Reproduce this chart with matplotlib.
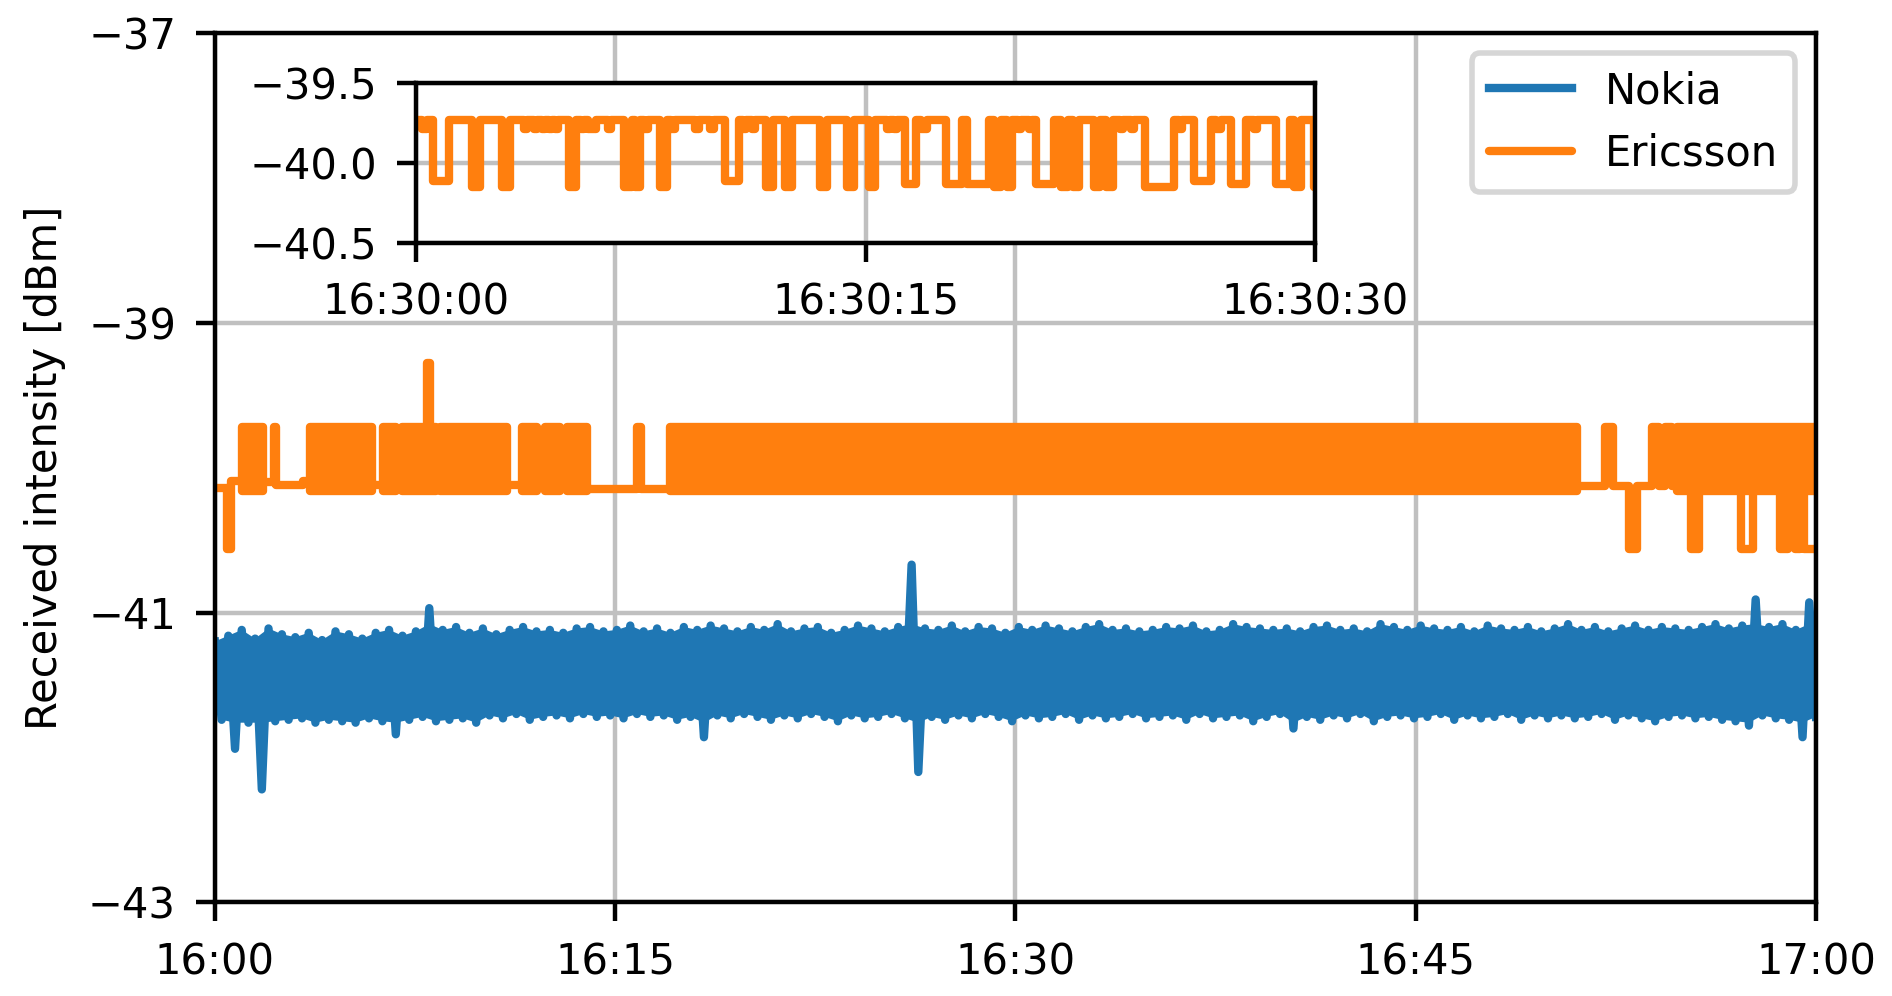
import matplotlib
matplotlib.use("Agg")
import matplotlib.pyplot as plt
import matplotlib.dates as mdates
import numpy as np

plt.rcParams['font.size'] = 7.5

# Nokia: upper / lower envelope of the received intensity per 30 s window [dBm]
nokia_top = [
    -41.20, -41.16, -41.12, -41.18, -41.11, -41.15, -41.17, -41.14, -41.19, -41.13,
    -41.15, -41.18, -41.14, -41.12, -41.16, -41.13, -40.97, -41.12, -41.10, -41.14,
    -41.11, -41.15, -41.12, -41.10, -41.13, -41.12, -41.14, -41.11, -41.10, -41.13,
    -41.12, -41.09, -41.13, -41.11, -41.14, -41.10, -41.12, -41.09, -41.11, -41.13,
    -41.10, -41.12, -41.08, -41.13, -41.11, -41.10, -41.14, -41.12, -41.09, -41.11,
    -41.13, -41.10, -40.67, -41.11, -41.12, -41.09, -41.13, -41.10, -41.11, -41.14,
    -41.10, -41.12, -41.09, -41.11, -41.13, -41.10, -41.08, -41.12, -41.11, -41.13,
    -41.12, -41.10, -41.11, -41.09, -41.13, -41.12, -41.08, -41.10, -41.11, -41.12,
    -41.11, -41.13, -41.10, -41.09, -41.12, -41.11, -41.13, -41.08, -41.10, -41.12,
    -41.09, -41.11, -41.12, -41.10, -41.13, -41.09, -41.11, -41.12, -41.10, -41.13,
    -41.11, -41.08, -41.12, -41.10, -41.13, -41.11, -41.09, -41.12, -41.10, -41.11,
    -41.12, -41.10, -41.08, -41.11, -41.09, -40.91, -41.10, -41.08, -41.12, -40.93,
]
nokia_bottom = [
    -41.74, -41.94, -41.76, -42.22, -41.75, -41.74, -41.73, -41.76, -41.74, -41.75,
    -41.76, -41.73, -41.75, -41.84, -41.74, -41.72, -41.75, -41.74, -41.73, -41.76,
    -41.71, -41.73, -41.70, -41.74, -41.72, -41.71, -41.73, -41.70, -41.72, -41.71,
    -41.73, -41.70, -41.72, -41.71, -41.74, -41.72, -41.86, -41.71, -41.73, -41.70,
    -41.72, -41.74, -41.71, -41.73, -41.70, -41.72, -41.75, -41.71, -41.73, -41.72,
    -41.70, -41.73, -42.10, -41.72, -41.74, -41.71, -41.73, -41.70, -41.72, -41.75,
    -41.71, -41.73, -41.72, -41.70, -41.74, -41.71, -41.73, -41.72, -41.70, -41.73,
    -41.72, -41.71, -41.74, -41.70, -41.73, -41.72, -41.71, -41.75, -41.72, -41.70,
    -41.80, -41.72, -41.74, -41.71, -41.73, -41.70, -41.75, -41.72, -41.71, -41.73,
    -41.72, -41.70, -41.74, -41.71, -41.73, -41.72, -41.70, -41.74, -41.71, -41.73,
    -41.71, -41.73, -41.72, -41.70, -41.74, -41.71, -41.73, -41.75, -41.72, -41.71,
    -41.73, -41.72, -41.74, -41.75, -41.78, -41.71, -41.73, -41.74, -41.86, -41.72,
]
# typical band limits, used only to fill the inside of the noisy trace
nokia_core = (-41.76, -41.08)

# Ericsson: level changes (minutes after 16:00) and new level [dBm]
eric_min = [0.0, 0.45, 0.6, 1.82, 2.20, 2.28, 3.30, 5.88, 7.95, 8.05, 8.30,
            10.94, 12.07, 12.94, 13.94, 15.80, 15.95, 51.05, 52.10, 52.40,
            53.00, 53.30, 53.86, 54.10, 54.35, 54.60, 55.30, 55.60, 57.20,
            57.65, 58.67, 58.97, 59.20, 59.40, 59.55, 59.90, 60.0]
eric_val = [-40.14, -40.56, -40.09, -40.10, -39.72, -40.12, -40.09, -40.12,
            -39.28, -40.12, -40.12, -40.12, -40.12, -40.12, -40.15, -39.72,
            -40.15, -40.13, -39.72, -40.13, -40.56, -40.13, -39.72, -40.13,
            -39.72, -40.13, -40.56, -40.13, -40.56, -40.13, -40.56, -40.13,
            -40.56, -40.13, -40.56, -40.56, -40.56]
# spans (minutes) where Ericsson flips between the two levels faster than the plot resolves
eric_busy = [(1.0, 1.82), (3.57, 5.88), (6.3, 6.8), (7.0, 8.3), (8.44, 10.94),
             (11.5, 12.07), (12.38, 12.94), (13.19, 13.94), (17.06, 51.05),
             (54.8, 60.0)]
eric_low, eric_high = -40.16, -39.72

# Inset: Ericsson between 16:30:00 and 16:30:30, seconds and level [dBm]
inset_sec = [0.0, 0.19, 0.36, 0.55, 1.1, 1.88, 2.12, 2.88, 3.12, 3.6, 3.7, 3.95,
             4.05, 4.2, 4.3, 4.45, 4.55, 4.65, 4.75, 5.1, 5.35, 5.5, 5.6, 5.75,
             6.0, 6.4, 6.5, 6.95, 7.22, 7.3, 7.47, 7.6, 7.75, 8.14, 8.36, 8.5,
             8.65, 9.3, 9.45, 9.8, 9.95, 10.3, 10.76, 10.9, 11.0, 11.2, 11.3,
             11.68, 11.92, 12.3, 12.53, 13.48, 13.72, 14.37, 14.6, 15.12, 15.32,
             15.7, 15.8, 15.95, 16.05, 16.3, 16.68, 16.85, 17.05, 17.68, 18.23,
             18.4, 19.12, 19.3, 19.52, 19.71, 19.9, 20.1, 20.2, 20.45, 20.55,
             20.68, 21.28, 21.52, 21.75, 21.93, 22.13, 22.63, 22.82, 23.02, 23.27,
             23.5, 23.6, 23.85, 23.95, 24.33, 25.3, 25.45, 25.55, 25.95, 26.52,
             26.7, 26.85, 27.18, 27.7, 27.95, 28.05, 28.7, 29.15, 29.28, 29.52,
             29.95, 30.0]
inset_val = [-39.73, -39.79, -39.73, -40.11, -39.73, -40.15, -39.73, -40.15,
             -39.73, -39.79, -39.73, -39.79, -39.73, -39.79, -39.73, -39.79,
             -39.73, -39.79, -39.73, -40.15, -39.73, -39.79, -39.73, -39.79,
             -39.73, -39.79, -39.73, -40.15, -39.73, -40.15, -39.73, -39.79,
             -39.73, -40.15, -39.73, -39.79, -39.73, -39.79, -39.73, -39.79,
             -39.73, -40.11, -39.73, -39.79, -39.73, -39.79, -39.73, -40.15,
             -39.73, -40.15, -39.73, -40.15, -39.73, -40.15, -39.73, -40.15,
             -39.73, -39.79, -39.73, -39.79, -39.73, -40.13, -39.73, -39.79,
             -39.73, -40.13, -39.73, -40.13, -39.73, -40.15, -39.73, -40.15,
             -39.73, -39.79, -39.73, -39.79, -39.73, -40.13, -39.73, -40.15,
             -39.73, -40.15, -39.73, -40.15, -39.73, -40.15, -39.73, -39.79,
             -39.73, -39.79, -39.73, -40.15, -39.73, -39.79, -39.73, -40.11,
             -39.73, -39.79, -39.73, -40.13, -39.73, -39.79, -39.73, -40.13,
             -39.73, -40.15, -39.73, -40.15, -40.15]

NOKIA_COLOR = '#1f77b4'
ERIC_COLOR = '#ff7f0e'
GRID_COLOR = '#c0c0c0'

start = np.datetime64('2021-01-01T16:00:00')
inset_start = np.datetime64('2021-01-01T16:30:00')


def to_time(base, values, unit_ms):
    """Offsets (minutes or seconds) to datetime64 from a base time."""
    offsets = np.round(np.asarray(values, dtype=float) * unit_ms).astype('timedelta64[ms]')
    return base + offsets


fig = plt.figure(figsize=(1892 / 400, 996 / 400), dpi=400)
ax = fig.add_axes([0.1136, 0.0939, 0.8462, 0.8734])

# Nokia: alternate upper and lower envelope values along the hour
nokia_vals = np.ravel(np.column_stack([nokia_top, nokia_bottom]))
nokia_t = to_time(start, np.linspace(0, 60, len(nokia_vals)), 60000)
nokia_x = mdates.date2num(nokia_t)
core_top = np.minimum(nokia_top, nokia_core[1])
core_bottom = np.maximum(nokia_bottom, nokia_core[0])
ax.fill(np.concatenate([nokia_x[0::2], nokia_x[1::2][::-1]]),
        np.concatenate([core_top, core_bottom[::-1]]),
        color=NOKIA_COLOR, lw=0, zorder=2)
ax.plot(nokia_t, nokia_vals, color=NOKIA_COLOR, lw=1.5, label='Nokia', zorder=2)

ax.plot(to_time(start, eric_min, 60000), eric_val, color=ERIC_COLOR, lw=1.5,
        drawstyle='steps-post', solid_capstyle='round', label='Ericsson', zorder=2)
for a, b in eric_busy:
    ax.fill_between(to_time(start, [a, b], 60000), eric_low, eric_high,
                    color=ERIC_COLOR, lw=1.5, joinstyle='round', zorder=2)

ax.set_xlim(to_time(start, [0, 60], 60000))
ax.set_ylim(-43, -37)
ax.set_yticks([-43, -41, -39, -37])
ax.set_xticks(to_time(start, [0, 15, 30, 45, 60], 60000))
ax.xaxis.set_major_formatter(mdates.DateFormatter('%H:%M'))
ax.set_ylabel('Received intensity [dBm]')
ax.grid(True, color=GRID_COLOR, lw=0.8)
ax.legend(loc='upper right')

# Zoomed inset on 30 seconds of the Ericsson signal
axin = fig.add_axes([0.2199, 0.756, 0.4752, 0.1606])
axin.plot(to_time(inset_start, inset_sec, 1000), inset_val, color=ERIC_COLOR,
          lw=1.5, drawstyle='steps-post')
axin.set_xlim(to_time(inset_start, [0, 30], 1000))
axin.set_ylim(-40.5, -39.5)
axin.set_yticks([-40.5, -40.0, -39.5])
axin.set_xticks(to_time(inset_start, [0, 15, 30], 1000))
axin.xaxis.set_major_formatter(mdates.DateFormatter('%H:%M:%S'))
axin.grid(True, color=GRID_COLOR, lw=0.8)

fig.savefig('out.png', dpi=400)
